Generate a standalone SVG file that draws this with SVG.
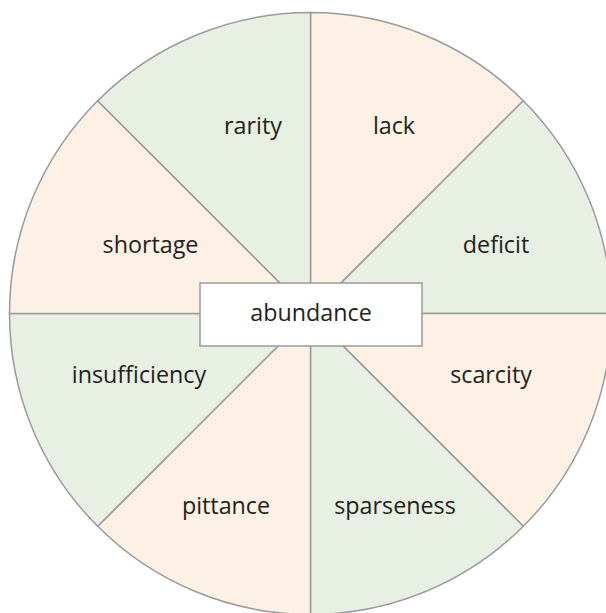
<svg xmlns="http://www.w3.org/2000/svg" width="606" height="613" viewBox="0 0 606 613">
<style>
.g{fill:#e8f0e3;stroke:#9a9a9a;stroke-width:1.5}
.p{fill:#fdf0e4;stroke:#9a9a9a;stroke-width:1.5}
text{font-family:"Open Sans","Noto Sans","Liberation Sans",sans-serif;font-size:23.3px;fill:#231f20;text-anchor:middle}
.box{fill:#ffffff;stroke:#9a9a9a;stroke-width:1.5}
</style>
<rect width="606" height="613" fill="#ffffff"/>
<g id="lack"><path class="p" d="M310.5,313.5 L310.5,12.5 A301,301 0 0 1 523.3,100.7 Z"/><text x="394" y="134">lack</text></g>
<g id="deficit"><path class="g" d="M310.5,313.5 L523.3,100.7 A301,301 0 0 1 611.5,313.5 Z"/><text x="496" y="253">deficit</text></g>
<g id="scarcity"><path class="p" d="M310.5,313.5 L611.5,313.5 A301,301 0 0 1 523.3,526.3 Z"/><text x="491" y="383">scarcity</text></g>
<g id="sparseness"><path class="g" d="M310.5,313.5 L523.3,526.3 A301,301 0 0 1 310.5,614.5 Z"/><text x="395" y="514">sparseness</text></g>
<g id="pittance"><path class="p" d="M310.5,313.5 L310.5,614.5 A301,301 0 0 1 97.7,526.3 Z"/><text x="226" y="514">pittance</text></g>
<g id="insufficiency"><path class="g" d="M310.5,313.5 L97.7,526.3 A301,301 0 0 1 9.5,313.5 Z"/><text x="139" y="383">insufficiency</text></g>
<g id="shortage"><path class="p" d="M310.5,313.5 L9.5,313.5 A301,301 0 0 1 97.7,100.7 Z"/><text x="150.5" y="253">shortage</text></g>
<g id="rarity"><path class="g" d="M310.5,313.5 L97.7,100.7 A301,301 0 0 1 310.5,12.5 Z"/><text x="253" y="134">rarity</text></g>
<g id="abundance"><rect class="box" x="200" y="283" width="222" height="63"/><text x="311" y="321">abundance</text></g>
</svg>
